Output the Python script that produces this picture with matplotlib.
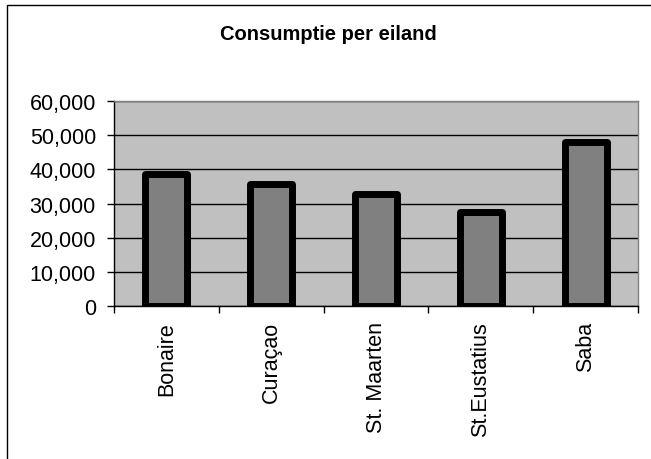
import matplotlib
matplotlib.use("Agg")
import matplotlib.pyplot as plt
from matplotlib.patches import Rectangle
from matplotlib.ticker import FuncFormatter

plt.rcParams['font.family'] = ['Liberation Sans', 'DejaVu Sans']

# data
eilanden = ['Bonaire', 'Curaçao', 'St. Maarten', 'St.Eustatius', 'Saba']
consumptie = [38600, 35700, 32800, 27600, 47900]
titel = 'Consumptie per eiland'

fig = plt.figure(figsize=(6.51, 4.60), dpi=100)
ax = fig.add_axes([114 / 651, 1 - 307 / 460, 524 / 651, 205 / 460])
ax.set_facecolor('#C0C0C0')

x = list(range(len(eilanden)))
ax.bar(x, consumptie, width=0.4, color='#808080', edgecolor='black',
       linewidth=5, joinstyle='round', zorder=3)

ax.set_xlim(-0.5, len(eilanden) - 0.5)
ax.set_ylim(0, 60000)
ax.set_yticks(range(0, 60001, 10000))
ax.yaxis.set_major_formatter(FuncFormatter(lambda v, p: f'{v:,.0f}'))
ax.grid(axis='y', color='black', linewidth=1, zorder=1)

# ticks between categories, labels in the middle
ax.set_xticks([i - 0.5 for i in range(len(eilanden) + 1)])
ax.set_xticklabels([])
ax.set_xticks(x, minor=True)
ax.set_xticklabels(eilanden, minor=True, rotation=90, fontsize=15.5)
ax.tick_params(axis='x', which='major', direction='out', length=5, width=1, color='black')
ax.tick_params(axis='x', which='minor', length=0, pad=11)
ax.tick_params(axis='y', direction='out', length=5, width=1, labelsize=15.5, pad=8)

for s in ['left', 'bottom']:
    ax.spines[s].set_color('black')
    ax.spines[s].set_linewidth(1)
for s in ['top', 'right']:
    ax.spines[s].set_color('#808080')
    ax.spines[s].set_linewidth(1)

fig.text(328 / 651, 1 - 34 / 460, titel, ha='center', va='center',
         fontsize=14.5, fontweight='bold')

# chart frame (only left and top are inside the image)
fig.patches.append(Rectangle((7 / 651, -0.1), 1.2, 1.1 - 6 / 460,
                             transform=fig.transFigure, fill=False,
                             edgecolor='black', linewidth=1))

fig.savefig('out.png', dpi=100)
